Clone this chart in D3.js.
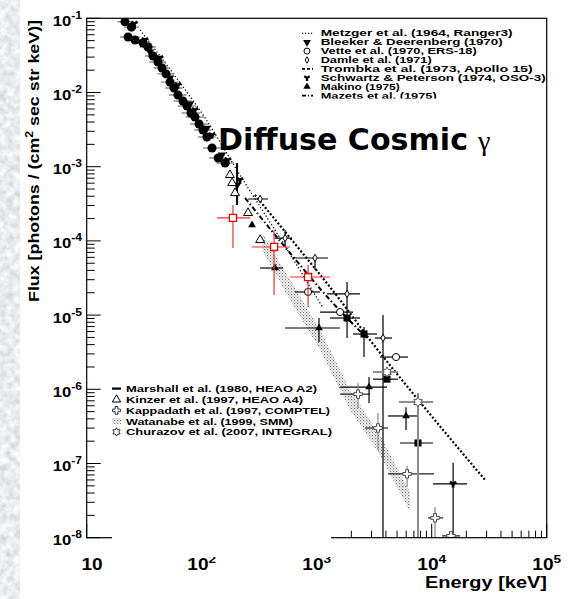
<!DOCTYPE html>
<html><head><meta charset="utf-8">
<script src="https://cdn.jsdelivr.net/npm/d3@7"></script>
<style>
html,body{margin:0;padding:0;background:#fff;}
svg{display:block;}
text{font-family:"Liberation Sans",Arial,Helvetica,sans-serif;font-weight:bold;fill:#000;}
</style></head><body>
<svg id="chart" width="568" height="599"></svg>
<script>
// ---------- axis setup ----------
const energyDomain = [10, 1e5];       // keV
const fluxDomain = [1e-8, 1e-1];      // photons / (cm^2 s sr keV)
const xTickExps = [1, 2, 3, 4, 5];
const yTickExps = [-1, -2, -3, -4, -5, -6, -7, -8];

// ---------- measurements ----------
// rows: [E, flux, Elow, Ehigh, fluxLow, fluxHigh]
const marshall = [
  [21.5, 9.0e-2, 18.5, 25], [24.5, 7.6e-2, 21, 28.5],
  [22.9, 5.6e-2, 19.5, 29], [26.3, 5.1e-2, 22, 31], [30.9, 4.65e-2, 26, 36],
  [34.1, 4.1e-2, 29, 40], [37.7, 3.1e-2, 32, 44], [41.7, 2.58e-2, 35, 49],
  [45.2, 2.14e-2, 38, 53], [49.0, 1.78e-2, 41, 58], [53.0, 1.38e-2, 44, 63],
  [57.4, 1.15e-2, 48, 68], [62.2, 9.25e-3, 52, 74], [68.7, 7.68e-3, 57, 82],
  [74.5, 6.58e-3, 62, 89], [80.7, 5.29e-3, 67, 97], [87.4, 4.68e-3, 73, 105],
  [94.8, 3.76e-3, 79, 113], [102.6, 3.12e-3, 86, 122], [111, 2.51e-3, 93, 132],
  [123, 1.79e-3, 103, 146], [139, 1.31e-3, 116, 166], [160, 1.12e-3, 134, 190]
];
const bleeker = [
  [35.5, 3.52e-2], [53.0, 1.57e-2], [79.1, 7.0e-3], [111, 3.32e-3], [150, 1.44e-3],
  [203, 5.66e-4, null, null, 3.05e-4, 1.12e-3]
];
const schwartz = [
  [26.0, 8.5e-2], [32.1, 5.1e-2], [43.4, 2.92e-2], [62.2, 1.26e-2], [87.4, 5.81e-3], [123, 2.67e-3],
  [169, 1.23e-3], [215, 6.62e-4],
  [15350, 5.31e-8, 10260, 20300, 1e-8, 1.02e-7]
];
const vette = [
  [841, 2.05e-5, 648, 1069], [1596, 1.10e-5, 1069, 2070], [4897, 2.72e-6, 3548, 6230]
];
const damle = [
  [322, 3.67e-4, 253, 378],
  [531, 1.09e-4, 434, 611, 8.28e-5, 1.40e-4],
  [967, 5.88e-5, 611, 1256, 4.06e-5, 5.88e-5],
  [1836, 1.93e-5, 1230, 2382, 4.91e-6, 2.79e-5],
  [3773, 4.91e-6, 3213, 4519, 1e-8, 1.0e-5]
];
const makino = [
  [274, 1.64e-4],
  [434, 4.31e-5, 322, 510],
  [1047, 6.70e-6, 531, 1596, 4.34e-6, 9.13e-6],
  [2851, 1.07e-6, 1596, 4085, 6.52e-7, 1.47e-6],
  [5980, 4.37e-7, 4169, 7600, 2.83e-7, 5.75e-7]
];
const kinzer = [
  [176, 7.73e-4], [184, 6.03e-4], [195, 4.42e-4], [253, 2.38e-4], [322, 1.03e-4]
];
const redSquares = [
  [187, 2.04e-4, 136, 263, 8.02e-5, 3.05e-4],
  [426, 8.28e-5, 274, 586, 1.87e-5, 1.40e-4],
  [841, 3.26e-5, 586, 1306, 1.29e-5, 4.73e-5]
];
const blackSquares = [
  [1836, 9.13e-6, 1306, 2382],
  [2579, 5.56e-6, 2070, 3345, 2.72e-6, 6.9e-6],
  [4085, 1.37e-6, 3090, 5094],
  [7600, 1.89e-7, 5300, 10260]
];
const kappadath = [
  [2287, 8.6e-7, 1596, 2911, 5.57e-7, 1.21e-6],
  [3412, 3.01e-7, 2630, 4169, 1.52e-7, 4.78e-7],
  [6110, 7.24e-8, 4169, 10470, 4.84e-8, 9.3e-8],
  [10690, 1.85e-8, 9290, 12560, 1e-8, 2.6e-8],
  [14720, 1.06e-8, 12300, 17650]
];
const churazov = [
  [4085, 1.71e-6, 3090, 5094],
  [7600, 6.72e-7, 5200, 10260, 1e-8, 8.9e-7]
];

// spectral model curves: [E, flux]
const metzgerCurve = [[29.1, 6.95e-2], [58.6, 1.67e-2], [107, 4.53e-3], [215, 7.73e-4], [480, 1.09e-4], [1135, 1.25e-5]];
const trombkaCurve = [[290, 4.16e-4], [716, 7.53e-5], [1596, 1.6e-5], [2911, 4.61e-6], [7910, 6.74e-7], [29100, 6.0e-8]];
const mazetsCurve = [[238, 3.79e-4], [586, 6.87e-5], [1306, 1.6e-5], [2735, 4.91e-6]];

// Watanabe (SMM) band
const watanabeE = [335, 586, 1069, 1950, 3548, 6470];
const watanabeHigh = [1.28e-4, 2.99e-5, 6.32e-6, 9.8e-7, 2.43e-7, 4.14e-8];
const watanabeLow = [7.5e-5, 1.6e-5, 3.4e-6, 5.3e-7, 1.31e-7, 2.23e-8];

const legendTop = [
  "Metzger et al. (1964, Ranger3)", "Bleeker & Deerenberg (1970)", "Vette et al. (1970, ERS-18)",
  "Damle et al. (1971)", "Trombka et al. (1973, Apollo 15)", "Schwartz & Peterson (1974, OSO-3)",
  "Makino (1975)", "Mazets et al. (1975)"
];
const legendTopWidths = [192, 182, 156, 111, 212, 225, 79, 116];
const legendBottom = [
  "Marshall et al. (1980, HEAO A2)", "Kinzer et al. (1997, HEAO A4)", "Kappadath et al. (1997, COMPTEL)",
  "Watanabe et al. (1999, SMM)", "Churazov et al. (2007, INTEGRAL)"
];
const legendBottomWidths = [191, 177, 204, 167, 206];

// ---------- drawing ----------
const svg = d3.select("#chart");
const W = 568, H = 599;
const L = 86.7, R = 546.7, T = 18.3, B = 537.7;
const x = d3.scaleLog().domain(energyDomain).range([L, R]);
const y = d3.scaleLog().domain(fluxDomain).range([B, T]);

const defs = svg.append("defs");
defs.append("clipPath").attr("id", "plotclip")
  .append("rect").attr("x", L).attr("y", T).attr("width", R - L).attr("height", B - T);
const pat = defs.append("pattern").attr("id", "stipple").attr("patternUnits", "userSpaceOnUse")
  .attr("width", 3).attr("height", 3);
pat.append("rect").attr("x", 0).attr("y", 0).attr("width", 1.2).attr("height", 1.2).attr("fill", "#6e6e6e");
pat.append("rect").attr("x", 1.5).attr("y", 1.5).attr("width", 1.2).attr("height", 1.2).attr("fill", "#9a9a9a");
const grain = defs.append("filter").attr("id", "grain").attr("x", 0).attr("y", 0).attr("width", 1).attr("height", 1);
grain.append("feTurbulence").attr("type", "fractalNoise").attr("baseFrequency", 0.14)
  .attr("numOctaves", 3).attr("seed", 7);
grain.append("feColorMatrix").attr("type", "matrix")
  .attr("values", "0.5 0 0 0 0.58  0.5 0 0 0 0.59  0.5 0 0 0 0.61  0 0 0 0 1");

svg.append("rect").attr("width", W).attr("height", H).attr("fill", "#fff");
svg.append("rect").attr("x", 0).attr("y", 0).attr("width", 20).attr("height", H)
  .attr("fill", "#d4d4d4").attr("filter", "url(#grain)");

const plot = svg.append("g").attr("clip-path", "url(#plotclip)");

// SMM band
const bandRows = watanabeE.map((e, i) => ({e, hi: watanabeHigh[i], lo: watanabeLow[i]}));
plot.append("path").datum(bandRows)
  .attr("d", d3.area().x(d => x(d.e)).y0(d => y(d.lo)).y1(d => y(d.hi)))
  .attr("fill", "url(#stipple)");

// model curves
const line = d3.line().x(d => x(d[0])).y(d => y(d[1])).curve(d3.curveMonotoneX);
plot.append("path").datum(metzgerCurve).attr("d", line).attr("fill", "none")
  .attr("stroke", "#000").attr("stroke-width", 1.3).attr("stroke-dasharray", "1.2,2.2");
plot.append("path").datum(trombkaCurve).attr("d", line).attr("fill", "none")
  .attr("stroke", "#000").attr("stroke-width", 2.2).attr("stroke-dasharray", "2,2");
plot.append("path").datum(mazetsCurve).attr("d", line).attr("fill", "none")
  .attr("stroke", "#000").attr("stroke-width", 2).attr("stroke-dasharray", "5,2.5,1.5,2.5");

function hexagram(r) {
  const pts = [];
  for (let k = 0; k < 12; k++) {
    const a = -Math.PI / 2 + k * Math.PI / 6;
    const rr = k % 2 === 0 ? r : r / Math.sqrt(3);
    pts.push([rr * Math.cos(a), rr * Math.sin(a)]);
  }
  return "M" + pts.map(p => p[0].toFixed(2) + "," + p[1].toFixed(2)).join("L") + "Z";
}

function drawSeries(rows, o) {
  const g = plot.append("g");
  rows.forEach(r => {
    const [E, F, Elo, Ehi, Flo, Fhi] = r;
    if (Elo != null) g.append("line").attr("x1", x(Elo)).attr("x2", x(Ehi)).attr("y1", y(F)).attr("y2", y(F))
      .attr("stroke", o.hbar || "#000").attr("stroke-width", o.bw || 1.2);
    if (Flo != null) g.append("line").attr("x1", x(E)).attr("x2", x(E)).attr("y1", y(Flo)).attr("y2", y(Fhi))
      .attr("stroke", o.vbar || o.hbar || "#000").attr("stroke-width", o.bw || 1.2);
  });
  g.selectAll("path.m").data(rows).join("path").attr("class", "m")
    .attr("d", o.path ? o.path : d3.symbol().type(o.type).size(o.size))
    .attr("transform", d => `translate(${x(d[0])},${y(d[1])})${o.rot ? " rotate(" + o.rot + ")" : ""}`)
    .attr("fill", o.fill).attr("stroke", o.stroke || "none").attr("stroke-width", o.sw || 1);
}

drawSeries(marshall, {type: d3.symbolCircle, size: 64, fill: "#000", hbar: "#8c8c8c", bw: 1.4});
drawSeries(bleeker, {type: d3.symbolTriangle, size: 30, fill: "#000", rot: 180, bw: 2});
drawSeries(schwartz, {type: d3.symbolWye, size: 28, fill: "#000"});
drawSeries(kinzer, {type: d3.symbolTriangle, size: 34, fill: "#fff", stroke: "#000"});
drawSeries(vette, {type: d3.symbolCircle, size: 40, fill: "#fff", stroke: "#000", hbar: "#000"});
drawSeries(damle, {type: d3.symbolDiamond, size: 16, fill: "#fff", stroke: "#000"});
drawSeries(makino, {type: d3.symbolTriangle, size: 26, fill: "#000"});
drawSeries(blackSquares, {type: d3.symbolSquare, size: 50, fill: "#000", hbar: "#000"});
drawSeries(kappadath, {type: d3.symbolCross, size: 40, fill: "#fff", stroke: "#444", hbar: "#222", vbar: "#888"});
drawSeries(churazov, {path: hexagram(5), fill: "#fff", stroke: "#555", hbar: "#8c8c8c", vbar: "#8c8c8c", bw: 2});
drawSeries(redSquares, {type: d3.symbolSquare, size: 50, fill: "#fff", stroke: "#e00", hbar: "#f03030", vbar: "#f03030", bw: 1.2, sw: 1.3});

// frame and axes
const axes = svg.append("g");
axes.append("rect").attr("x", L).attr("y", T).attr("width", R - L).attr("height", B - T)
  .attr("fill", "none").attr("stroke", "#000").attr("stroke-width", 1.2);

const yTicks = [];
for (let p = -8; p < -1; p++) for (let m = 1; m < 10; m++) yTicks.push({v: m * Math.pow(10, p), major: m === 1});
yTicks.push({v: 1e-1, major: true});
axes.selectAll("line.yt").data(yTicks).join("line").attr("class", "yt")
  .attr("x1", L).attr("x2", d => L + (d.major ? 14 : 8))
  .attr("y1", d => y(d.v)).attr("y2", d => y(d.v)).attr("stroke", "#000").attr("stroke-width", 1);

const xTicks = [];
for (let p = 1; p < 5; p++) for (let m = 1; m < 10; m++) xTicks.push({v: m * Math.pow(10, p), major: m === 1});
xTicks.push({v: 1e5, major: true});
axes.selectAll("line.xt").data(xTicks).join("line").attr("class", "xt")
  .attr("x1", d => x(d.v)).attr("x2", d => x(d.v))
  .attr("y1", B).attr("y2", d => B - (d.major ? 14 : 7)).attr("stroke", "#000").attr("stroke-width", 1);

// white panel under the lower legend, and the cut-off at the foot of the top legend
svg.append("rect").attr("x", 112).attr("y", 375).attr("width", 219).attr("height", 182).attr("fill", "#fff");

// y tick labels
const yl = svg.append("g");
yTickExps.forEach(p => {
  const t = yl.append("text").attr("text-anchor", "end")
    .attr("transform", `translate(82,${y(Math.pow(10, p)) + 7.5}) scale(1.15,1)`)
    .style("font-size", "14.5px");
  t.append("tspan").text("10");
  t.append("tspan").attr("dy", -7).style("font-size", "10.5px").text(String(p));
});

// x tick labels
const xl = svg.append("g");
xTickExps.forEach(p => {
  const cx = p === 1 ? 92 : x(Math.pow(10, p));
  const t = xl.append("text").attr("text-anchor", "middle")
    .attr("transform", `translate(${cx},570) scale(1.19,1)`).style("font-size", "16px");
  t.append("tspan").text("10");
  if (p > 1) t.append("tspan").attr("dy", -7.5).style("font-size", "11.5px").text(String(p));
});
// the legend panel also hides the upper part of the 10^2 and 10^3 exponents
svg.append("rect").attr("x", 180).attr("y", 540).attr("width", 151).attr("height", 17).attr("fill", "#fff");

// axis titles
svg.append("text").attr("text-anchor", "end").attr("x", 547).attr("y", 588)
  .attr("textLength", 122).attr("lengthAdjust", "spacingAndGlyphs")
  .style("font-size", "16.5px").text("Energy [keV]");
const yt = svg.append("text").attr("text-anchor", "end")
  .attr("transform", "translate(39,20) rotate(-90)")
  .attr("textLength", 282).attr("lengthAdjust", "spacingAndGlyphs")
  .style("font-size", "14.5px");
yt.append("tspan").text("Flux [photons / (cm");
yt.append("tspan").attr("dy", -6).style("font-size", "10px").text("2");
yt.append("tspan").attr("dy", 6).text(" sec str keV)]");

// top legend
const lt = svg.append("g");
const topRowY = [36.3, 45.2, 54.1, 63, 71.9, 80.8, 89.7, 98.6];
legendTop.forEach((s, i) => {
  lt.append("text").attr("x", 320.7).attr("y", topRowY[i]).attr("textLength", legendTopWidths[i])
    .attr("lengthAdjust", "spacingAndGlyphs").style("font-size", "8.2px").text(s);
});
const mk = (i) => topRowY[i] - 3;
lt.append("line").attr("x1", 302).attr("x2", 313).attr("y1", mk(0)).attr("y2", mk(0))
  .attr("stroke", "#000").attr("stroke-width", 1.2).attr("stroke-dasharray", "1.2,1.8");
lt.append("path").attr("d", d3.symbol().type(d3.symbolTriangle).size(26))
  .attr("transform", `translate(307,${mk(1)}) rotate(180)`).attr("fill", "#000");
lt.append("circle").attr("cx", 307).attr("cy", mk(2)).attr("r", 3).attr("fill", "#fff").attr("stroke", "#000");
lt.append("path").attr("d", d3.symbol().type(d3.symbolDiamond).size(12))
  .attr("transform", `translate(307,${mk(3)})`).attr("fill", "#fff").attr("stroke", "#000");
lt.append("line").attr("x1", 302).attr("x2", 313).attr("y1", mk(4)).attr("y2", mk(4))
  .attr("stroke", "#000").attr("stroke-width", 1.6).attr("stroke-dasharray", "3,2");
lt.append("path").attr("d", d3.symbol().type(d3.symbolWye).size(20))
  .attr("transform", `translate(307,${mk(5)})`).attr("fill", "#000");
lt.append("path").attr("d", d3.symbol().type(d3.symbolTriangle).size(24))
  .attr("transform", `translate(307,${mk(6)})`).attr("fill", "#000");
lt.append("line").attr("x1", 302).attr("x2", 313).attr("y1", mk(7)).attr("y2", mk(7))
  .attr("stroke", "#000").attr("stroke-width", 1.6).attr("stroke-dasharray", "4,2,1,2");
svg.append("rect").attr("x", 298).attr("y", 98.6).attr("width", 248).attr("height", 10).attr("fill", "#fff");

// bottom legend
const lb = svg.append("g");
const botRowY = [392, 403, 413.8, 424.5, 435.3];
legendBottom.forEach((s, i) => {
  lb.append("text").attr("x", 126).attr("y", botRowY[i]).attr("textLength", legendBottomWidths[i])
    .attr("lengthAdjust", "spacingAndGlyphs").style("font-size", "9.2px").text(s);
});
const mb = (i) => botRowY[i] - 3.4;
lb.append("line").attr("x1", 112).attr("x2", 121).attr("y1", mb(0)).attr("y2", mb(0))
  .attr("stroke", "#000").attr("stroke-width", 2.2);
lb.append("path").attr("d", d3.symbol().type(d3.symbolTriangle).size(30))
  .attr("transform", `translate(116.5,${mb(1)})`).attr("fill", "#fff").attr("stroke", "#000");
lb.append("path").attr("d", d3.symbol().type(d3.symbolCross).size(34))
  .attr("transform", `translate(116.5,${mb(2)})`).attr("fill", "#fff").attr("stroke", "#333");
lb.append("rect").attr("x", 112).attr("y", mb(3) - 3).attr("width", 9).attr("height", 6).attr("fill", "url(#stipple)");
lb.append("path").attr("d", hexagram(4.2))
  .attr("transform", `translate(116.5,${mb(4)})`).attr("fill", "#fff").attr("stroke", "#333");

// headline
const hd = svg.append("g");
hd.append("text").attr("x", 218).attr("y", 150).attr("textLength", 250).attr("lengthAdjust", "spacingAndGlyphs")
  .style("font-family", "'DejaVu Sans', sans-serif").style("font-size", "31px").text("Diffuse Cosmic");
hd.append("text").attr("x", 478).attr("y", 150)
  .style("font-family", "'Liberation Serif', serif").style("font-weight", "normal").style("font-size", "28px").text("γ");
</script>
</body></html>
